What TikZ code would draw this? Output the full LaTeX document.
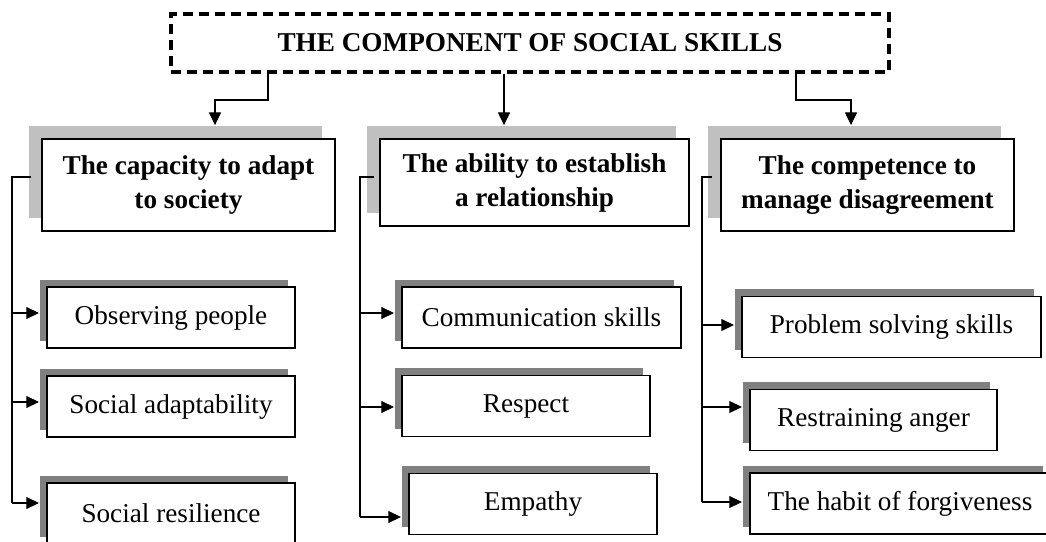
\documentclass[tikz,border=0pt]{standalone}
\usepackage{fontspec}
\setmainfont{Liberation Serif}
\usetikzlibrary{arrows.meta,shadows}
\newcommand\diafont{\fontsize{20.4}{25.5}\selectfont}
\definecolor{headshadow}{HTML}{C0C0C0}
\definecolor{subshadow}{HTML}{808080}
\tikzset{
  titlebox/.style={draw,line width=2.4pt,dash pattern=on 7.5pt off 4.5pt,minimum width=538.5pt,minimum height=43.5pt,font=\diafont\bfseries},
  headbox/.style={draw,line width=1.4pt,fill=white,align=center,inner sep=0pt,font=\diafont\bfseries,
    drop shadow={shadow xshift=-9.75pt,shadow yshift=9.75pt,fill=headshadow,opacity=1}},
  subbox/.style={draw,line width=1.1pt,fill=white,inner sep=0pt,minimum height=46pt,font=\diafont,
    drop shadow={shadow xshift=-5.5pt,shadow yshift=5.5pt,fill=subshadow,opacity=1}},
  link/.style={line width=0.9pt},
  arr/.style={link,-{Triangle[length=9.5pt,width=9pt]}}
}
\begin{document}
\begin{tikzpicture}[x=0.75pt,y=-0.75pt]
  \useasboundingbox (0,0) rectangle (1046,542);
  \node[titlebox] (title) at (530,43) {THE COMPONENT OF SOCIAL SKILLS};

  \node[headbox,minimum width=219.75pt,minimum height=69pt] (H1) at (188.5,185) {The capacity to adapt\\to society};
  \node[headbox,minimum width=231.75pt,minimum height=65.25pt] (H2) at (534.5,182.5) {The ability to establish\\a relationship};
  \node[headbox,minimum width=219.75pt,minimum height=69pt] (H3) at (867.5,185) {The competence to\\manage disagreement};

  \node[subbox,minimum width=186pt] (C1a) at (171,317.5) {Observing people};
  \node[subbox,minimum width=186pt] (C1b) at (171,406.5) {Social adaptability};
  \node[subbox,minimum width=186pt] (C1c) at (171,513.5) {Social resilience};
  \node[subbox,minimum width=209.25pt] (C2a) at (541.5,317.5) {Communication skills};
  \node[subbox,minimum width=186pt] (C2b) at (526,406) {Respect};
  \node[subbox,minimum width=186pt] (C2c) at (533,504) {Empathy};
  \node[subbox,minimum width=224.25pt] (C3a) at (891.5,327) {Problem solving skills};
  \node[subbox,minimum width=185.25pt] (C3b) at (873.5,420) {Restraining anger};
  \node[subbox,minimum width=225pt] (C3c) at (900,503.5) {The habit of forgiveness};

  \draw[arr,shorten >=9.75pt] (title.south -| 268,0) |- (215,100) -- (215,0 |- H1.north);
  \draw[arr,shorten >=9.75pt] (title.south -| 504,0) -- (504,0 |- H2.north);
  \draw[arr,shorten >=9.75pt] (title.south -| 796,0) |- (851,100) -- (851,0 |- H3.north);

  \draw[link] ([xshift=-7.5pt]H1.west |- 0,177) -- (12,177) -- (12,503);
  \draw[link] ([xshift=-4pt]H2.west |- 0,177) -- (360,177) -- (360,517);
  \draw[link] ([xshift=-6pt]H3.west |- 0,177) -- (702,177) -- (702,502);

  \foreach \n/\x/\y in {C1a/12/313,C1b/12/402,C1c/12/503,C2a/360/313,C2b/360/407,C2c/360/517,C3a/702/325,C3b/702/407,C3c/702/502}
    \draw[arr,shorten >=5.5pt] (\x,\y) -- (\n.west |- \x,\y);
\end{tikzpicture}
\end{document}
